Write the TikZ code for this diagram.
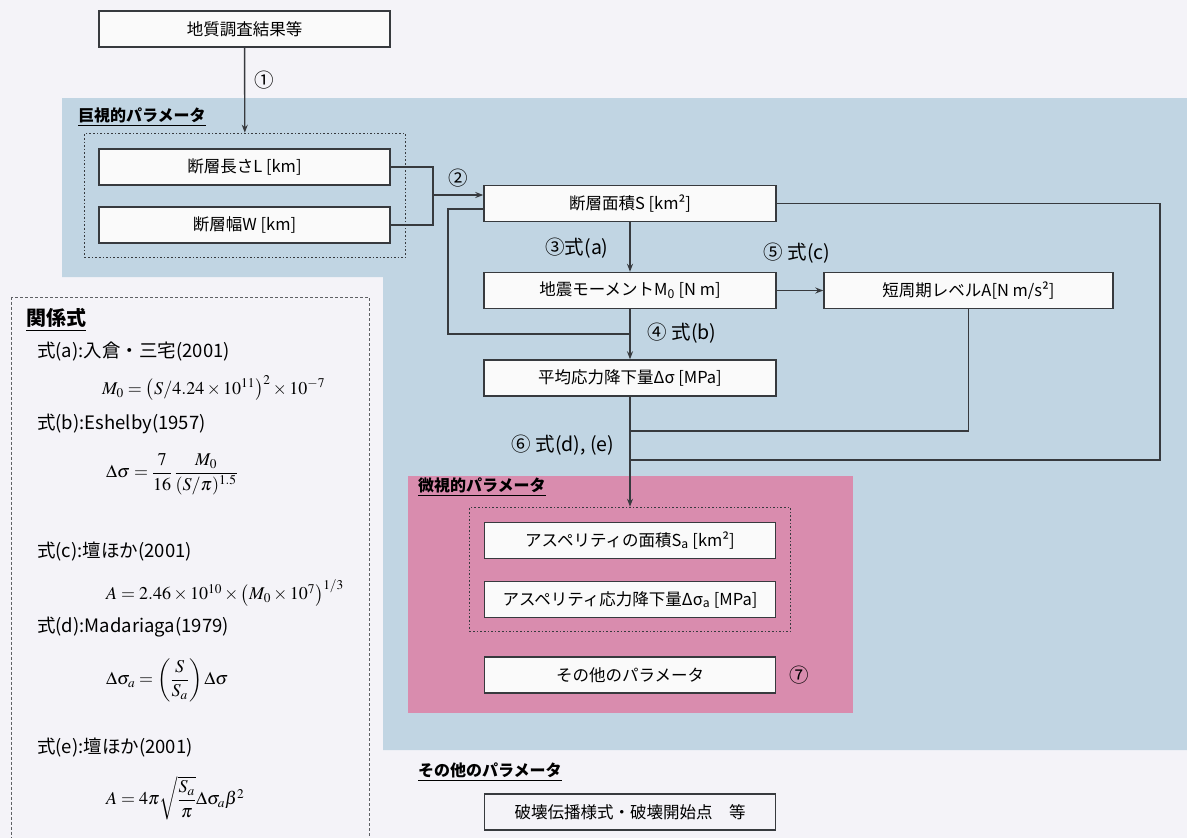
\documentclass[tikz,border=0pt]{standalone}
\usepackage{amsmath}
\usepackage{mathptmx}
\usepackage[no-math]{fontspec}
\setmainfont{Noto Sans CJK JP}
\usetikzlibrary{arrows.meta}
\definecolor{bgc}{RGB}{244,243,248}
\definecolor{bluec}{RGB}{193,213,227}
\definecolor{pinkc}{RGB}{217,140,174}
\definecolor{ln}{RGB}{55,58,62}
\definecolor{boxfill}{RGB}{250,250,250}
\begin{document}
\begin{tikzpicture}[x=1pt,y=-1pt,
  line/.style={draw=ln, line width=1.4pt},
  arr/.style={line, -{Stealth[length=8pt,width=6pt]}},
  box/.style={draw=ln, line width=1.4pt, fill=boxfill, minimum width=291pt, minimum height=36pt, inner sep=0pt, font=\fontsize{16.5}{19}\selectfont},
  grp/.style={draw=ln, dotted, line width=1.6pt, minimum width=321pt, minimum height=124pt, inner sep=0pt},
  lbl/.style={font=\fontsize{19.5}{22}\selectfont, inner sep=0pt},
  ttl/.style={font=\fontsize{16}{18}\selectfont\bfseries, anchor=west, inner sep=0pt},
  rel/.style={font=\fontsize{18.5}{22}\selectfont, anchor=west, inner sep=0pt},
  fml/.style={font=\fontsize{18}{22}\selectfont, anchor=west, inner sep=0pt}]
\fill[bgc] (0,0) rectangle (1187,838);
\useasboundingbox (0,0) rectangle (1187,838);
% regions
\fill[bluec] (62,98) -- (1187,98) -- (1187,750) -- (383,750) -- (383,277) -- (62,277) -- cycle;
\fill[pinkc] (408,476) rectangle (853,713);
% titles
\node[ttl] (macrot) at (78,117) {\underline{巨視的パラメータ}};
\node[ttl] (microt) at (418,487) {\underline{微視的パラメータ}};
\node[ttl] (otht) at (418,772) {\underline{その他のパラメータ}};
% boxes
\node[box] (geo) at (244.5,29) {地質調査結果等};
\node[grp] (macro) at (245,195.5) {};
\node[box] (L) at (244.5,167) {断層長さL [km]};
\node[box] (W) at (244.5,225) {断層幅W [km]};
\node[box, minimum width=292pt] (S) at (630,203.5) {断層面積S [km²]};
\node[box, minimum width=292pt] (M) at (630,290.5) {地震モーメントM\textsubscript{0} [N m]};
\node[box, minimum width=289pt] (A) at (968.5,290.5) {短周期レベルA[N m/s²]};
\node[box, minimum width=292pt] (D) at (630,378) {平均応力降下量Δσ [MPa]};
\node[grp] (micro) at (630,569.5) {};
\node[box] (Sa) at (630,540.5) {アスペリティの面積S\textsubscript{a} [km²]};
\node[box] (Da) at (630,599.5) {アスペリティ応力降下量Δσ\textsubscript{a} [MPa]};
\node[box] (oth) at (630,675) {その他のパラメータ};
\node[box, fill=bgc] (frac) at (630,812) {破壊伝播様式・破壊開始点\quad 等};
% labels
\node[lbl] (n1) at (264,80) {①};
\node[lbl] (n2) at (458,178) {②};
\node[lbl] (n3) at (577,248) {③式(a)};
\node[lbl] (n4) at (682,333) {④ 式(b)};
\node[lbl] (n5) at (797,253) {⑤ 式(c)};
\node[lbl] (n6) at (563,445) {⑥ 式(d), (e)};
\node[lbl] (n7) at (799,675) {⑦};
% connectors
\draw[arr] (geo) -- (macro);
\coordinate (j) at (433,195);
\draw[line] (L.east) -| (j) |- (W.east);
\draw[arr] (j) -- (j -| S.west);
\coordinate (f1) at (448,209);
\coordinate (f2) at (448,334);
\draw[line] (S.west |- f1) -- (f1) -- (f2) -- (f2 -| M.south);
\draw[arr] (S) -- (M);
\draw[arr] (M) -- (A);
\draw[arr] (M) -- (D);
\draw[arr] (D) -- (micro);
\coordinate (a1) at (968.5,431);
\draw[line] (A.south) -- (a1) -- (a1 -| D.south);
\coordinate (s1) at (1160,203.5);
\coordinate (s2) at (1160,460);
\draw[line] (S.east) -- (s1) -- (s2) -- (s2 -| D.south);
% relation panel
\node[draw=ln!80, dash pattern=on 3pt off 2pt, line width=1pt, fill=bgc, minimum width=358pt, minimum height=560pt, anchor=north west, inner sep=0pt] (rel) at (11,297) {};
\node[ttl, font=\fontsize{20}{22}\selectfont\bfseries] (relt) at (26,320) {\underline{関係式}};
\node[rel] (ra) at (37,352) {式(a):入倉・三宅(2001)};
\node[fml] (fa) at (102,388) {$M_0=\bigl(S/4.24\times10^{11}\bigr)^2\times10^{-7}$};
\node[rel] (rb) at (37,424) {式(b):Eshelby(1957)};
\node[fml] (fb) at (106,474) {$\Delta\sigma=\dfrac{7}{16}\,\dfrac{M_0}{(S/\pi)^{1.5}}$};
\node[rel] (rc) at (37,552) {式(c):壇ほか(2001)};
\node[fml] (fc) at (106,593) {$A=2.46\times10^{10}\times\bigl(M_0\times10^7\bigr)^{1/3}$};
\node[rel] (rd) at (37,627) {式(d):Madariaga(1979)};
\node[fml] (fd) at (106,680) {$\Delta\sigma_a=\left(\dfrac{S}{S_a}\right)\Delta\sigma$};
\node[rel] (re) at (37,748) {式(e):壇ほか(2001)};
\node[fml] (fe) at (106,798) {$A=4\pi\sqrt{\dfrac{S_a}{\pi}}\Delta\sigma_a\beta^2$};
\end{tikzpicture}
\end{document}
